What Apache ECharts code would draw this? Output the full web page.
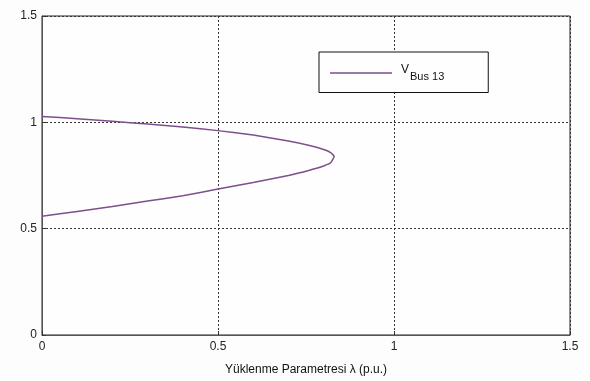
<!DOCTYPE html>
<html>
<head>
<meta charset="utf-8">
<script src="https://cdn.jsdelivr.net/npm/echarts@6/dist/echarts.min.js"></script>
<style>
  html, body { margin: 0; padding: 0; background: #fdfdfd; }
  #chart { width: 590px; height: 381px; }
</style>
</head>
<body>
<div id="chart"></div>
<script>
// P-V (nose) curve of bus 13: loading parameter vs. voltage magnitude
// upper branch from no load to the nose, then the lower branch back to zero
const lambdaPU = [0, 0.1, 0.2, 0.3, 0.4, 0.5, 0.6, 0.7, 0.76, 0.80, 0.82, 0.83,
                  0.82, 0.80, 0.76, 0.7, 0.6, 0.5, 0.4, 0.3, 0.2, 0.1, 0];
const vBus13 = [1.028, 1.017, 1.005, 0.992, 0.978, 0.961, 0.940, 0.912, 0.891, 0.872, 0.858, 0.840,
                0.810, 0.795, 0.775, 0.750, 0.717, 0.686, 0.655, 0.630, 0.604, 0.581, 0.558];
const xTicks = [0, 0.5, 1, 1.5];
const yTicks = [0, 0.5, 1, 1.5];
const seriesName = 'V_Bus 13';
const xTitle = 'Yüklenme Parametresi λ (p.u.)';

const curve = lambdaPU.map((x, i) => [x, vBus13[i]]);
const fmt = v => (xTicks.includes(v) || yTicks.includes(v)) ? String(v) : '';

const chart = echarts.init(document.getElementById('chart'));
chart.setOption({
  backgroundColor: '#fdfdfd',
  animation: false,
  textStyle: { fontFamily: 'Arial, "Liberation Sans", sans-serif' },
  grid: { left: 42, right: 20, top: 16, bottom: 43, show: true, borderColor: '#222', borderWidth: 1, backgroundColor: '#fefefe' },
  legend: {
    left: 319, top: 52,
    padding: [12, 44, 10, 11],
    borderColor: '#111', borderWidth: 1,
    backgroundColor: '#fefefe',
    icon: 'rect',
    itemWidth: 62, itemHeight: 1.5,
    itemGap: 0,
    data: [seriesName],
    formatter: () => '{v|V}{sub|Bus 13}',
    textStyle: {
      rich: {
        v: { fontSize: 12, color: '#111', padding: [0, 1, 6, 4] },
        sub: { fontSize: 11, color: '#111', padding: [8, 0, 0, 0] }
      }
    }
  },
  xAxis: {
    type: 'value', min: 0, max: 1.5, interval: 0.5,
    name: xTitle, nameLocation: 'middle', nameGap: 29,
    nameTextStyle: { fontSize: 12, color: '#111' },
    axisLine: { onZero: false, lineStyle: { color: '#555', width: 1 } },
    axisTick: { inside: true, length: 4, lineStyle: { color: '#333' } },
    axisLabel: { fontSize: 12, color: '#222', margin: 6, formatter: fmt },
    splitLine: { show: true, lineStyle: { color: '#333', type: [2, 2], width: 1 } }
  },
  yAxis: {
    type: 'value', min: 0, max: 1.5, interval: 0.5,
    axisLine: { show: true, onZero: false, lineStyle: { color: '#555', width: 1 } },
    axisTick: { show: true, inside: true, length: 4, lineStyle: { color: '#333' } },
    axisLabel: { fontSize: 12, color: '#222', margin: 5, formatter: fmt },
    splitLine: { show: true, lineStyle: { color: '#333', type: [2, 2], width: 1 } }
  },
  series: [{
    name: seriesName,
    type: 'line',
    data: curve,
    smooth: 0.15,
    showSymbol: false,
    symbol: 'none',
    color: '#7d4f8c',
    lineStyle: { color: '#7d4f8c', width: 1.5 }
  }]
});
</script>
</body>
</html>
